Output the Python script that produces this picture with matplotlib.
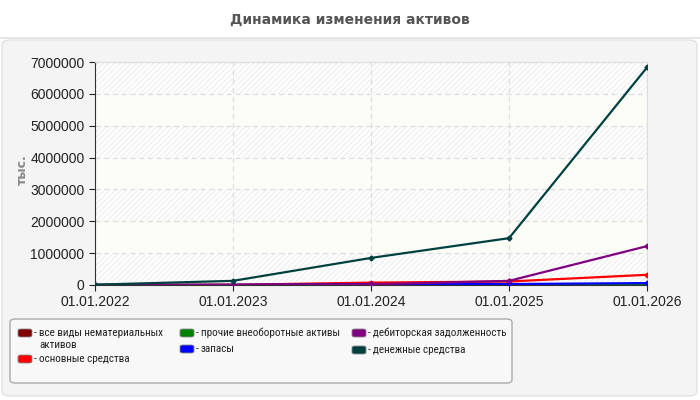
import matplotlib
matplotlib.use("Agg")
import matplotlib.pyplot as plt
from matplotlib.patches import FancyBboxPatch
from matplotlib.lines import Line2D

dates = ["01.01.2022", "01.01.2023", "01.01.2024", "01.01.2025", "01.01.2026"]

intangible = [0, 0, 0, 0, 0]
fixed_assets = [0, 5000, 75000, 110000, 320000]
other_noncurrent = [0, 0, 0, 0, 20000]
inventory = [0, 0, 30000, 30000, 60000]
receivables = [0, 10000, 20000, 130000, 1220000]
cash = [10000, 130000, 850000, 1470000, 6830000]

labels = ["все виды нематериальных\nактивов", "основные средства",
          "прочие внеоборотные активы", "запасы",
          "дебиторская задолженность", "денежные средства"]
values = [intangible, fixed_assets, other_noncurrent, inventory, receivables, cash]
colors = ["#800000", "#ff0000", "#008000", "#0000ff", "#800080", "#004040"]

# legend entry positions in pixels (handle left x, row centre y)
legend_pos = [(18, 333), (18, 359), (180, 333), (180, 349), (352, 333), (352, 350)]
legend_font = ["Roboto Condensed", "DejaVu Sans"]

W, H = 700, 400
fig = plt.figure(figsize=(7, 4), dpi=100)
fig.patch.set_facecolor("white")

def fx(px):
    return px / W

def fy(py):
    return 1 - py / H

# outer gray panel
panel = FancyBboxPatch((fx(2), fy(396)), fx(695), 356 / H,
                       boxstyle="round,pad=0,rounding_size=0.012",
                       transform=fig.transFigure, facecolor="#f4f4f4",
                       edgecolor="#e2e2e2", lw=1, zorder=-2)
fig.patches.append(panel)
fig.add_artist(Line2D([0, 1], [fy(38), fy(38)], transform=fig.transFigure,
                      color="#e6e6e6", lw=1.5, zorder=-2))

fig.text(0.5, fy(20), "Динамика изменения активов", ha="center", va="center",
         fontsize=10, fontweight="bold", color="#555555", family="DejaVu Sans")

ax = fig.add_axes([fx(95), fy(285), fx(552), 223 / H])
ax.set_zorder(2)
ax.set_facecolor("#fdfdf8")
x = list(range(len(dates)))

for lo in range(0, 7000000, 2000000):
    ax.axhspan(lo, lo + 1000000, facecolor="white", edgecolor="#f0f0f0",
               hatch="//////", lw=0, zorder=0)

for vals, col in zip(values, colors):
    ax.plot(x, vals, color=col, lw=1.6, marker="D", markersize=2.5, zorder=3)

ax.set_xlim(0, 4)
ax.set_ylim(0, 7000000)
ax.set_xticks(x)
ax.set_xticklabels(dates)
ax.set_yticks(range(0, 7000001, 1000000))
ax.set_yticklabels([str(v) for v in range(0, 7000001, 1000000)])
ax.tick_params(labelsize=10, colors="#222222", length=4)
for lbl in ax.get_xticklabels() + ax.get_yticklabels():
    lbl.set_family("Liberation Sans")
ax.grid(True, color="#dddddd", ls=(0, (4, 3)), lw=0.9)
ax.set_axisbelow(True)
for s in ["top", "right"]:
    ax.spines[s].set_color("#dddddd")
for s in ["left", "bottom"]:
    ax.spines[s].set_color("#333333")

fig.text(fx(22), fy(170), "тыс.", rotation=90, ha="center", va="center",
         fontsize=9, fontweight="bold", color="#888888")

# legend box
box = FancyBboxPatch((fx(10), fy(383)), fx(502), 64 / H,
                     boxstyle="round,pad=0,rounding_size=0.008",
                     transform=fig.transFigure, facecolor="#f8f8f8",
                     edgecolor="#aaaaaa", lw=1, zorder=-1)
fig.patches.append(box)

for (hx, hy), lab, col in zip(legend_pos, labels, colors):
    h = FancyBboxPatch((fx(hx), fy(hy + 4)), fx(14), 8 / H,
                       boxstyle="round,pad=0,rounding_size=0.004",
                       transform=fig.transFigure, facecolor=col,
                       edgecolor="#888888", lw=0.6)
    fig.patches.append(h)
    fig.text(fx(hx + 16), fy(hy), "-", ha="left", va="center",
             fontsize=8, family=legend_font, color="#222222")
    for i, line in enumerate(lab.split("\n")):
        fig.text(fx(hx + 21), fy(hy + 12 * i), line, ha="left", va="center",
                 fontsize=8, family=legend_font, color="#222222")

fig.savefig("out.png", dpi=100)
